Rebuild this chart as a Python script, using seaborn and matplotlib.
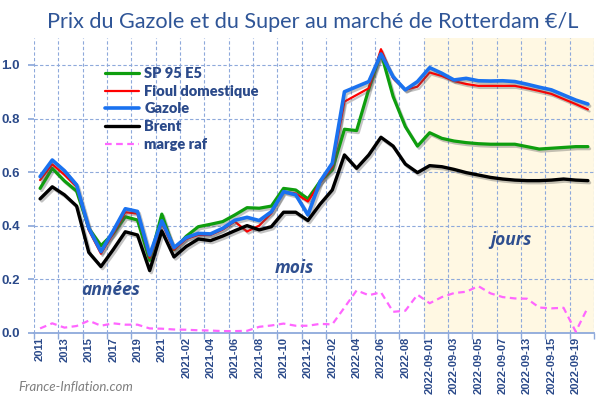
import numpy as np
import pandas as pd
import matplotlib
matplotlib.use("Agg")
import matplotlib.pyplot as plt
import matplotlib.patheffects as pe
import seaborn as sns

years = [str(y) for y in range(2011, 2022)]
months = ["2021-%02d" % m for m in range(1, 13)] + ["2022-%02d" % m for m in range(1, 9)]
extra = ["2022-08-31"]
days = ["2022-09-01", "2022-09-02", "2022-09-03", "2022-09-04", "2022-09-05", "2022-09-06",
        "2022-09-07", "2022-09-08", "2022-09-13", "2022-09-14", "2022-09-15", "2022-09-16",
        "2022-09-19", "2022-09-20"]
categories = years + months + extra + days

sp95 = [0.539, 0.614, 0.567, 0.529, 0.39, 0.325, 0.37, 0.433, 0.421, 0.27, 0.443, 0.31,
        0.36, 0.396, 0.405, 0.415, 0.44, 0.467, 0.465, 0.473, 0.539, 0.533, 0.50, 0.565,
        0.608, 0.76, 0.755, 0.91, 1.046, 0.882, 0.77, 0.697, 0.747, 0.726, 0.716, 0.71,
        0.706, 0.704, 0.704, 0.704, 0.695, 0.686, 0.689, 0.692, 0.695, 0.695]
fioul = [0.57, 0.629, 0.59, 0.545, 0.383, 0.295, 0.37, 0.45, 0.445, 0.28, 0.41, 0.31,
         0.35, 0.365, 0.365, 0.385, 0.415, 0.378, 0.40, 0.446, 0.527, 0.52, 0.49, 0.56,
         0.62, 0.863, 0.888, 0.913, 1.059, 0.95, 0.907, 0.919, 0.972, 0.959, 0.94, 0.929,
         0.922, 0.922, 0.922, 0.922, 0.913, 0.903, 0.892, 0.873, 0.854, 0.834]
gazole = [0.583, 0.645, 0.605, 0.552, 0.39, 0.303, 0.38, 0.463, 0.453, 0.29, 0.418, 0.318,
          0.355, 0.371, 0.369, 0.39, 0.42, 0.431, 0.419, 0.452, 0.527, 0.515, 0.44, 0.565,
          0.633, 0.90, 0.919, 0.938, 1.041, 0.956, 0.907, 0.938, 0.99, 0.969, 0.944, 0.95,
          0.941, 0.94, 0.941, 0.938, 0.928, 0.917, 0.907, 0.888, 0.869, 0.854]
brent = [0.50, 0.545, 0.515, 0.473, 0.30, 0.247, 0.31, 0.377, 0.365, 0.232, 0.38, 0.283,
         0.322, 0.35, 0.344, 0.361, 0.381, 0.40, 0.384, 0.396, 0.45, 0.45, 0.419, 0.48,
         0.533, 0.664, 0.614, 0.664, 0.73, 0.697, 0.63, 0.598, 0.624, 0.62, 0.61, 0.598,
         0.589, 0.58, 0.574, 0.57, 0.568, 0.568, 0.57, 0.574, 0.57, 0.568]
marge = [0.016, 0.035, 0.019, 0.025, 0.045, 0.026, 0.035, 0.03, 0.03, 0.016, 0.015, 0.012,
         0.011, 0.009, 0.008, 0.006, 0.006, 0.007, 0.022, 0.027, 0.034, 0.026, 0.026, 0.033,
         0.031, 0.094, 0.158, 0.14, 0.151, 0.078, 0.082, 0.142, 0.11, 0.133, 0.148, 0.153,
         0.174, 0.147, 0.133, 0.128, 0.127, 0.094, 0.091, 0.093, 0.004, 0.095]

series_names = ["SP 95 E5", "Fioul domestique", "Gazole", "Brent", "marge raf"]
series_values = [sp95, fioul, gazole, brent, marge]
colors = ["#0E9E0E", "#FF0000", "#1A72F0", "#000000", "#FF66FF"]
widths = [2.3, 1.6, 2.6, 2.4, 1.6]
styles = ["-", "-", "-", "-", "--"]

pos = np.arange(len(categories))
df = pd.DataFrame({"pos": np.tile(pos, len(series_names)),
                   "val": np.concatenate(series_values),
                   "serie": np.repeat(series_names, len(categories))})

sns.set_theme(style="white")
plt.rcParams["font.family"] = ["Lato", "DejaVu Sans"]

TXT = "#2B4A8A"
GRID = "#8EA9DB"

fig = plt.figure(figsize=(6, 4), dpi=100)
ax = fig.add_axes([34 / 600, 1 - 332.7 / 400, 560 / 600, (332.7 - 38.2) / 400])

ax.axvspan(len(years) + len(months) + len(extra) - 0.5, len(categories) - 0.5,
           color="#FFF8E3", zorder=0, lw=0)

shadow = [pe.SimpleLineShadow(offset=(1.2, -1.5), shadow_color="#555555", alpha=0.35),
          pe.Normal()]
for name, c, w, ls in zip(series_names, colors, widths, styles):
    sub = df[df["serie"] == name]
    sns.lineplot(data=sub, x="pos", y="val", ax=ax, color=c, lw=w, linestyle=ls,
                 label=name, zorder=3, sort=False)
for ln in ax.lines[:4]:
    ln.set_path_effects(shadow)
for ln in ax.lines[4:5]:
    ln.set_dashes([3, 2])

ax.set_xlim(-0.5, len(categories) - 0.5)
ax.set_ylim(0, 1.1)
ax.set_xlabel("")
ax.set_ylabel("")

ax.set_xticks(pos[::2])
ax.set_xticklabels(categories[::2], rotation=90, fontsize=8, fontweight="bold",
                   color=TXT, family="Liberation Sans")
ax.set_xticks(np.arange(-0.5, len(categories), 2), minor=True)
ax.tick_params(axis="x", which="major", length=0, pad=3)
ax.tick_params(axis="x", which="minor", length=4, color=GRID, width=1, direction="out")
ax.tick_params(axis="x", which="minor", bottom=True)
ax.set_yticks([0.0, 0.2, 0.4, 0.6, 0.8, 1.0])
ax.set_yticklabels(["%.1f" % v for v in [0.0, 0.2, 0.4, 0.6, 0.8, 1.0]],
                   fontsize=9.5, fontweight="bold", color=TXT, family="Liberation Sans")
ax.tick_params(axis="y", length=4, color=GRID, pad=6, left=True)

ax.grid(False)
for yv in [0.2, 0.4, 0.6, 0.8, 1.0]:
    ax.axhline(yv, color=GRID, lw=0.8, ls=(0, (3, 2)), zorder=1)
for xv in np.arange(-0.5, len(categories), 2):
    ax.axvline(xv, color=GRID, lw=0.8, ls=(0, (3, 2)), zorder=1)

for s in ["top", "right", "left"]:
    ax.spines[s].set_visible(False)
ax.spines["bottom"].set_color(GRID)
ax.spines["bottom"].set_linewidth(1.3)

note_kw = dict(fontsize=12.5, fontstyle="italic", fontweight="bold", color="#2F4F8F",
               ha="center", va="center", family=["Open Sans", "Lato", "DejaVu Sans"])
ax.text(5.8, 0.16, "années", **note_kw)
ax.text(20.9, 0.24, "mois", **note_kw)
ax.text(38.7, 0.345, "jours", **note_kw)

leg = ax.legend(loc="upper left", bbox_to_anchor=(105 / 600, 1 - 67 / 400),
                bbox_transform=fig.transFigure, frameon=False, fontsize=10.5,
                handlelength=2.3, handletextpad=0.4, labelspacing=0.32,
                borderpad=0, borderaxespad=0)
for t in leg.get_texts():
    t.set_color(TXT)
    t.set_fontweight("heavy")
for h in leg.get_lines():
    h.set_path_effects([])

fig.text(313 / 600, 1 - 22 / 400, "Prix du Gazole et du Super au marché de Rotterdam €/L",
         fontsize=15.6, color="#2F5597", ha="center", va="center")
fig.text(18 / 600, 1 - 387 / 400, "France-Inflation.com", fontsize=9.5,
         fontstyle="italic", color="#7F7F7F", ha="left", va="center")

fig.savefig("out.png", dpi=100)
